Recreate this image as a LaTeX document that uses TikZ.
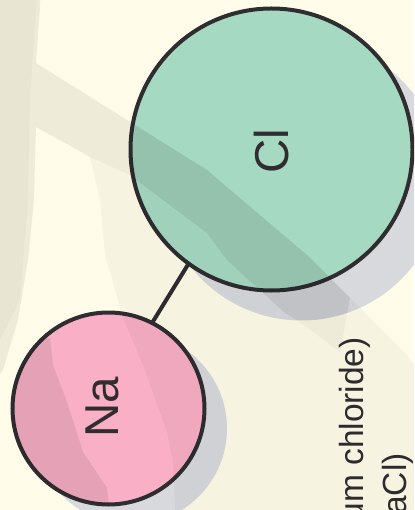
\documentclass[tikz,border=0pt]{standalone}
\usepackage{fontspec}
\setmainfont{Liberation Sans}
\definecolor{paper}{HTML}{FFFDE9}
\definecolor{ink}{HTML}{2F2D30}
\definecolor{clfill}{HTML}{A6D9C1}
\definecolor{nafill}{HTML}{F9AFC5}
\definecolor{shade}{HTML}{D8D9DC}
\tikzset{
  atom/.style={circle,draw=ink,line width=4pt,outer sep=0pt,inner sep=0pt},
  cast/.style={circle,fill=shade,outer sep=0pt,inner sep=0pt},
  bigsym/.style={text=ink,font=\fontsize{47.5}{47.5}\selectfont,rotate=90,inner sep=0pt},
  caption/.style={text=ink,font=\fontsize{33.5}{33.5}\selectfont,rotate=90,anchor=base east,inner sep=0pt},
  bond/.style={draw=ink,line width=4pt},
  tex/.style={fill=black,fill opacity=#1}
}
\begin{document}
\begin{tikzpicture}[x=1pt,y=-1pt]
\useasboundingbox (0,0) rectangle (414,510);
\clip (0,0) rectangle (414,510);
\fill[paper] (0,0) rectangle (414,510);
% shadows
\node[cast,minimum size=282pt] (clcast) at (301.5,179.5) {};
\node[cast,minimum size=192pt] (nacast) at (131,428.5) {};
% atoms
\node[atom,fill=clfill,minimum size=282pt] (cl) at (271.5,149.5) {};
\node[atom,fill=nafill,minimum size=192pt] (na) at (108.5,408.5) {};
\draw[bond] (na.63.3) -- (cl.234.6);
\node[bigsym] (cltext) at (272,151) {Cl};
\node[bigsym] (natext) at (102.6,407) {Na};
\node[caption] (line1) at (363.7,337) {um chloride)};
\node[caption] (line2) at (406,453) {aCl)};
% paper texture, laid over everything
\path[tex=0.065] (-20,-20) -- (42,-20) -- (36,63) -- (135,125) -- (207,170) -- (307,255) -- (350,298) -- (340,352) -- (307,327) -- (284,312) -- (227,260) -- (207,233) -- (130,175) -- (90,157) -- (36,127) -- (34,200) -- (28,260) -- (18,320) -- (3,370) -- (-20,400) -- cycle;
\path[tex=0.025] (-20,-20) -- (38,-20) -- (30,100) -- (28,200) -- (20,300) -- (-20,380) -- cycle;
\path[tex=0.035] (350,298) -- (367,315) -- (407,355) -- (430,385) -- (430,490) -- (384,422) -- (340,352) -- cycle;
\path[tex=0.035] (90,157) -- (130,175) -- (207,233) -- (227,260) -- (284,312) -- (307,327) -- (340,352) -- (384,422) -- (430,490) -- (430,530) -- (176,530) -- (173,462) -- (167,432) -- (143,365) -- (123,318) -- (105,255) -- (100,200) -- cycle;
\begin{scope}
\clip (108.5,408.5) circle (96pt);
\path[tex=0.08] (50,338) -- (53,365) -- (67,402) -- (83,452) -- (107,488) -- (110,515) -- (0,515) -- (0,338) -- cycle;
\end{scope}
\begin{scope}
\clip (271.5,149.5) circle (141pt) (301.5,179.5) circle (141pt);
\path[tex=0.035] (135,125) -- (207,170) -- (307,255) -- (350,298) -- (340,352) -- (307,327) -- (284,312) -- (227,260) -- (207,233) -- (130,175) -- cycle;
\end{scope}
\end{tikzpicture}
\end{document}
